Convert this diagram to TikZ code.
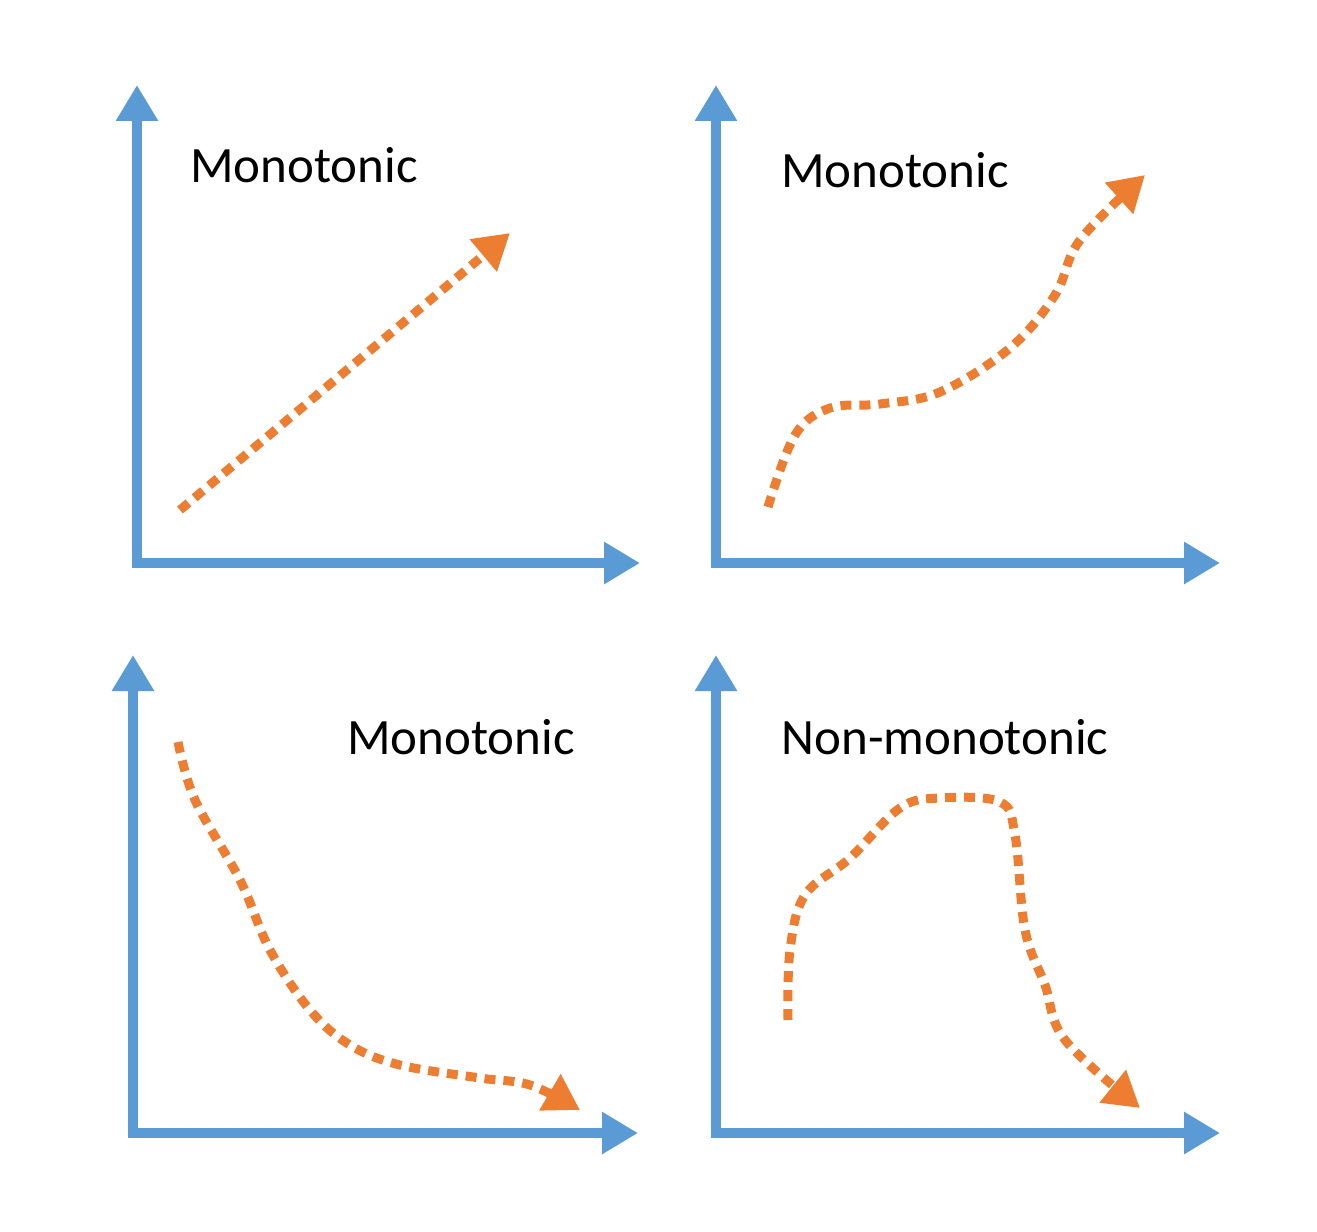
\documentclass[tikz,border=0pt]{standalone}
\usepackage{fontspec}
\setmainfont{Carlito}
\usetikzlibrary{arrows.meta}

\begin{document}
\begin{tikzpicture}[x=0.02cm, y=-0.02cm,
			axis/.style={draw={rgb,255:red,91;green,155;blue,213}, line width=10*0.02cm, -{Triangle[length=0.72cm, width=0.8cm]}},
			curve/.style={draw={rgb,255:red,237;green,125;blue,49}, line width=9*0.02cm, dash pattern=on 0.22cm off 0.16cm, -{Triangle[length=0.7cm, width=0.8cm]}},
			label/.style={font=\fontsize{29}{34}\selectfont}
		]
		\useasboundingbox (0,0) rectangle (1317,1231);

		% Panel 1
		\draw[axis] (137,563) -- (137,85);
		\draw[axis] (132,563) -- (640,563);
		\draw[curve] (180,510) -- (510,233);
		\node[label] (m1) at (304,165) {Monotonic};

		% Panel 2
		\draw[axis] (716,563) -- (716,85);
		\draw[axis] (711,563) -- (1220,563);
		\draw[curve] plot[smooth, tension=0.6] coordinates {(768,507) (795,435) (830,408) (880,404) (940,392) (1010,348) (1055,295) (1080,240) (1145,175)};
		\node[label] (m2) at (895,170) {Monotonic};

		% Panel 3
		\draw[axis] (133,1133) -- (133,655);
		\draw[axis] (128,1133) -- (638,1133);
		\draw[curve] plot[smooth, tension=0.6] coordinates {(178,742) (195,800) (240,880) (270,950) (310,1010) (350,1045) (400,1065) (480,1078) (530,1085) (580,1110)};
		\node[label] (m3) at (461,737) {Monotonic};

		% Panel 4
		\draw[axis] (716,1133) -- (716,655);
		\draw[axis] (711,1133) -- (1220,1133);
		\draw[curve] plot[smooth, tension=0.6] coordinates {(788,1020) (790,950) (805,895) (850,858) (900,808) (940,798) (1000,802) (1015,835) (1025,930) (1045,985) (1065,1040) (1140,1108)};
		\node[label] (m4) at (945,737) {Non-monotonic};
	\end{tikzpicture}
\end{document}
